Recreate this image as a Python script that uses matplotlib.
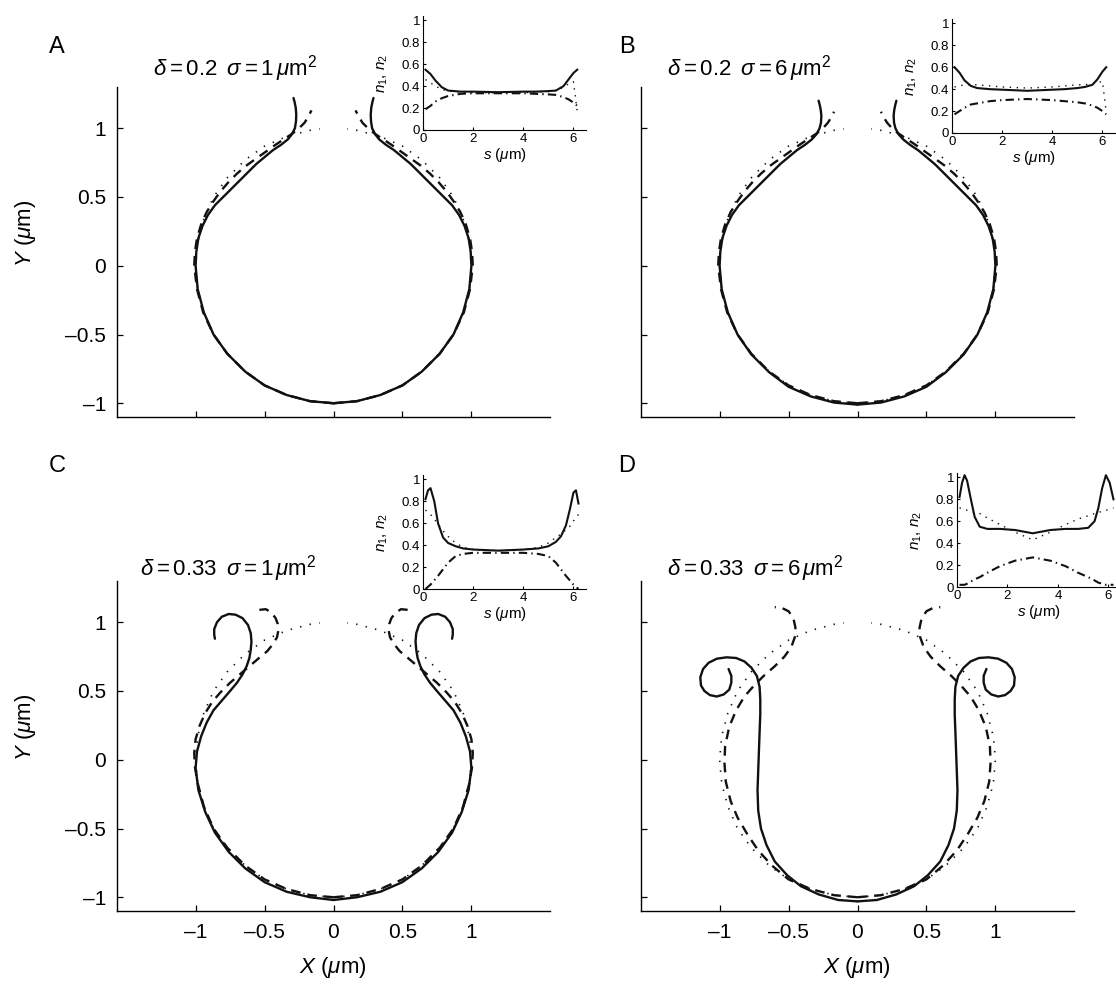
import numpy as np
import matplotlib
matplotlib.use('Agg')
import matplotlib.pyplot as plt

plt.rcParams['font.family'] = ['Liberation Sans', 'DejaVu Sans']
plt.rcParams['mathtext.fontset'] = 'custom'
plt.rcParams['mathtext.rm'] = 'Liberation Sans'
plt.rcParams['mathtext.it'] = 'Liberation Sans:italic'
plt.rcParams['lines.scale_dashes'] = False

# --- shape data: right half of each contour (left half is the mirror image) ---
# dotted reference: sphere with a small opening at the top
circ_x = [0.0, 0.17, 0.34, 0.5, 0.64, 0.77, 0.87, 0.94, 0.985, 1.0, 0.985, 0.94, 0.87, 0.77, 0.64, 0.5, 0.34, 0.17, 0.1]
circ_y = [-1.0, -0.985, -0.94, -0.87, -0.77, -0.64, -0.5, -0.34, -0.17, 0.0, 0.17, 0.34, 0.5, 0.64, 0.77, 0.87, 0.94, 0.985, 0.995]

# A: delta=0.2, sigma=1
A_solid_x = [0.0, 0.17, 0.34, 0.5, 0.64, 0.77, 0.87, 0.94, 0.985, 1.0, 0.995, 0.98, 0.95, 0.91, 0.86, 0.8, 0.74,
             0.68, 0.62, 0.56, 0.5, 0.44, 0.38, 0.33, 0.3, 0.28, 0.272, 0.27, 0.274, 0.282, 0.29]
A_solid_y = [-1.0, -0.985, -0.94, -0.87, -0.77, -0.64, -0.5, -0.34, -0.17, 0.0, 0.1, 0.2, 0.29, 0.37, 0.44, 0.5, 0.56,
             0.62, 0.68, 0.74, 0.79, 0.84, 0.88, 0.92, 0.96, 1.0, 1.05, 1.1, 1.15, 1.19, 1.22]
A_dash_x = [0.0, 0.17, 0.34, 0.5, 0.64, 0.77, 0.87, 0.945, 0.99, 1.01, 1.005, 0.99, 0.96, 0.92, 0.87, 0.82, 0.76,
            0.7, 0.63, 0.56, 0.49, 0.42, 0.36, 0.3, 0.25, 0.21, 0.18, 0.16]
A_dash_y = [-1.0, -0.985, -0.94, -0.87, -0.77, -0.64, -0.5, -0.34, -0.17, 0.0, 0.1, 0.2, 0.3, 0.39, 0.47, 0.54, 0.61,
            0.67, 0.73, 0.78, 0.83, 0.88, 0.92, 0.96, 1.0, 1.04, 1.09, 1.13]

# B: delta=0.2, sigma=6
B_solid_x = [0.0, 0.17, 0.34, 0.5, 0.64, 0.77, 0.87, 0.94, 0.985, 1.0, 0.995, 0.98, 0.95, 0.91, 0.86, 0.8, 0.74,
             0.68, 0.62, 0.56, 0.5, 0.44, 0.38, 0.33, 0.295, 0.275, 0.265, 0.262, 0.266, 0.274, 0.282]
B_solid_y = [-1.01, -0.995, -0.95, -0.88, -0.775, -0.645, -0.5, -0.34, -0.17, 0.0, 0.1, 0.2, 0.29, 0.37, 0.44, 0.5, 0.56,
             0.62, 0.68, 0.74, 0.79, 0.84, 0.88, 0.92, 0.96, 1.0, 1.04, 1.09, 1.13, 1.17, 1.2]
B_dash_x = [0.0, 0.17, 0.34, 0.5, 0.64, 0.77, 0.87, 0.945, 0.99, 1.01, 1.005, 0.99, 0.96, 0.92, 0.87, 0.82, 0.76,
            0.7, 0.63, 0.56, 0.49, 0.42, 0.36, 0.3, 0.25, 0.215, 0.19, 0.17]
B_dash_y = [-1.0, -0.985, -0.94, -0.87, -0.77, -0.64, -0.5, -0.34, -0.17, 0.0, 0.1, 0.2, 0.3, 0.39, 0.47, 0.54, 0.61,
            0.67, 0.73, 0.78, 0.83, 0.88, 0.92, 0.96, 1.0, 1.04, 1.08, 1.12]

# C: delta=0.33, sigma=1
C_solid_x = [0.0, 0.17, 0.34, 0.5, 0.64, 0.76, 0.86, 0.93, 0.98, 1.0, 0.99, 0.96, 0.92, 0.87, 0.81, 0.75, 0.7, 0.66,
             0.63, 0.61, 0.6, 0.595, 0.6, 0.62, 0.66, 0.71, 0.76, 0.81, 0.845, 0.865, 0.865, 0.86]
C_solid_y = [-1.02, -1.0, -0.96, -0.89, -0.79, -0.67, -0.53, -0.38, -0.22, -0.06, 0.06, 0.17, 0.27, 0.36, 0.43, 0.5,
             0.56, 0.62, 0.68, 0.74, 0.8, 0.86, 0.92, 0.98, 1.03, 1.055, 1.06, 1.04, 1.0, 0.95, 0.91, 0.88]
C_dash_x = [0.0, 0.17, 0.34, 0.5, 0.64, 0.77, 0.87, 0.94, 0.985, 1.005, 1.01, 1.0, 0.97, 0.93, 0.88, 0.82, 0.75, 0.68,
            0.61, 0.54, 0.48, 0.44, 0.41, 0.4, 0.405, 0.42, 0.45, 0.49, 0.54]
C_dash_y = [-1.0, -0.985, -0.94, -0.87, -0.77, -0.64, -0.5, -0.34, -0.17, -0.05, 0.05, 0.15, 0.25, 0.34, 0.42, 0.49,
            0.56, 0.62, 0.68, 0.74, 0.79, 0.84, 0.89, 0.94, 0.99, 1.03, 1.07, 1.095, 1.09]

# D: delta=0.33, sigma=6
D_solid_x = [0.0, 0.14, 0.28, 0.41, 0.51, 0.6, 0.66, 0.7, 0.72, 0.725, 0.72, 0.715, 0.71, 0.705, 0.705, 0.71, 0.73,
             0.77, 0.82, 0.88, 0.95, 1.02, 1.08, 1.12, 1.14, 1.135, 1.11, 1.07, 1.02, 0.97, 0.93, 0.915, 0.915, 0.935]
D_solid_y = [-1.03, -1.02, -0.98, -0.92, -0.84, -0.74, -0.62, -0.5, -0.37, -0.22, -0.08, 0.06, 0.2, 0.33, 0.44, 0.53,
             0.61, 0.67, 0.715, 0.74, 0.745, 0.735, 0.705, 0.66, 0.6, 0.54, 0.5, 0.47, 0.46, 0.475, 0.51, 0.56, 0.61, 0.66]
D_dash_x = [0.0, 0.17, 0.34, 0.5, 0.62, 0.72, 0.8, 0.87, 0.92, 0.955, 0.965, 0.96, 0.93, 0.88, 0.82, 0.75, 0.68, 0.6,
            0.53, 0.48, 0.455, 0.45, 0.465, 0.5, 0.55, 0.6]
D_dash_y = [-1.0, -0.985, -0.94, -0.87, -0.77, -0.66, -0.54, -0.42, -0.3, -0.16, -0.02, 0.1, 0.24, 0.36, 0.46, 0.54,
            0.61, 0.68, 0.75, 0.82, 0.89, 0.96, 1.03, 1.08, 1.105, 1.11]

# --- inset data: n1 (solid), n2 (dash-dot) and dotted curve vs arc length s ---
ins_A_s = [0.1, 0.3, 0.5, 0.75, 1.0, 1.5, 2.0, 3.0, 4.0, 4.5, 5.0, 5.3, 5.6, 5.8, 6.0, 6.15]
ins_A_n1 = [0.55, 0.51, 0.45, 0.39, 0.36, 0.35, 0.35, 0.345, 0.35, 0.35, 0.355, 0.36, 0.4, 0.46, 0.52, 0.55]
ins_A_n2 = [0.19, 0.22, 0.26, 0.29, 0.31, 0.33, 0.335, 0.335, 0.335, 0.33, 0.325, 0.32, 0.3, 0.28, 0.25, 0.22]
ins_A_dot = [0.46, 0.43, 0.4, 0.37, 0.355, 0.345, 0.34, 0.34, 0.34, 0.345, 0.35, 0.36, 0.39, 0.42, 0.44, 0.17]

ins_B_s = [0.1, 0.3, 0.5, 0.75, 1.0, 1.5, 2.0, 3.0, 4.0, 4.5, 5.0, 5.3, 5.6, 5.8, 6.0, 6.15]
ins_B_n1 = [0.6, 0.55, 0.48, 0.43, 0.41, 0.4, 0.395, 0.385, 0.395, 0.4, 0.41, 0.42, 0.44, 0.49, 0.56, 0.6]
ins_B_n2 = [0.17, 0.2, 0.23, 0.26, 0.27, 0.29, 0.3, 0.31, 0.3, 0.29, 0.28, 0.27, 0.25, 0.23, 0.2, 0.17]
ins_B_dot = [0.42, 0.43, 0.44, 0.44, 0.44, 0.43, 0.42, 0.41, 0.42, 0.43, 0.44, 0.44, 0.45, 0.46, 0.47, 0.19]

ins_C_s = [0.1, 0.2, 0.3, 0.45, 0.6, 0.8, 1.0, 1.3, 1.6, 2.0, 3.0, 4.0, 4.6, 5.0, 5.3, 5.5, 5.7, 5.85, 6.0, 6.1, 6.2]
ins_C_n1 = [0.82, 0.9, 0.92, 0.8, 0.6, 0.47, 0.42, 0.39, 0.37, 0.36, 0.35, 0.36, 0.37, 0.39, 0.43, 0.48, 0.58, 0.72, 0.88, 0.9, 0.78]
ins_C_n2 = [0.0, 0.02, 0.04, 0.08, 0.12, 0.18, 0.24, 0.3, 0.32, 0.33, 0.33, 0.33, 0.32, 0.3, 0.24, 0.18, 0.12, 0.08, 0.04, 0.02, 0.0]
ins_C_dot = [0.72, 0.7, 0.68, 0.64, 0.59, 0.53, 0.48, 0.42, 0.38, 0.36, 0.35, 0.36, 0.38, 0.42, 0.47, 0.5, 0.54, 0.57, 0.62, 0.65, 0.68]

ins_D_s = [0.1, 0.2, 0.3, 0.4, 0.55, 0.7, 0.9, 1.2, 1.7, 2.3, 3.0, 3.7, 4.3, 4.8, 5.2, 5.45, 5.6, 5.75, 5.9, 6.05, 6.2]
ins_D_n1 = [0.82, 0.95, 1.02, 0.97, 0.8, 0.64, 0.55, 0.53, 0.53, 0.52, 0.49, 0.52, 0.53, 0.53, 0.54, 0.6, 0.72, 0.9, 1.02, 0.95, 0.8]
ins_D_n2 = [0.02, 0.02, 0.02, 0.03, 0.05, 0.07, 0.09, 0.13, 0.19, 0.24, 0.27, 0.24, 0.19, 0.13, 0.09, 0.06, 0.04, 0.03, 0.02, 0.02, 0.02]
ins_D_dot = [0.72, 0.72, 0.71, 0.7, 0.69, 0.68, 0.67, 0.63, 0.57, 0.5, 0.43, 0.5, 0.57, 0.62, 0.65, 0.67, 0.68, 0.69, 0.7, 0.71, 0.72]

panel_letters = ['A', 'B', 'C', 'D']
panel_titles = [r'$\delta = 0.2\;\;\sigma = 1\,\mu$m$^2$',
                r'$\delta = 0.2\;\;\sigma = 6\,\mu$m$^2$',
                r'$\delta = 0.33\;\;\sigma = 1\,\mu$m$^2$',
                r'$\delta = 0.33\;\;\sigma = 6\,\mu$m$^2$']
main_ticks = [-1, -0.5, 0, 0.5, 1]
main_ticklabels = ['\u20131', '\u20130.5', '0', '0.5', '1']
ins_yticks = [0, 0.2, 0.4, 0.6, 0.8, 1]
ins_yticklabels = ['0', '0.2', '0.4', '0.6', '0.8', '1']
ins_xticks = [0, 2, 4, 6]

W, H = 1116, 985
fig = plt.figure(figsize=(W / 100, H / 100), dpi=100)


def add_ax(left, top, right, bottom):
    # axes from pixel box
    return fig.add_axes([left / W, 1 - bottom / H, (right - left) / W, (bottom - top) / H])


def draw_sym(ax, x, y, **kw):
    x = np.asarray(x)
    ax.plot(x, y, **kw)
    ax.plot(-x, y, **kw)


solid_kw = dict(color='#111111', lw=1.7, solid_capstyle='round', solid_joinstyle='round')
dash_kw = dict(color='#111111', lw=1.7, linestyle=(0, (7, 5)))
dot_kw = dict(color='#111111', lw=1.2, linestyle=(0, (1, 6)))

# panel geometry (pixels): main axes box, inset box, title position
main_boxes = [(117, 87, 550, 417), (641, 87, 1074, 417), (117, 581, 550, 911), (641, 581, 1074, 911)]
inset_boxes = [(423, 16, 586, 130), (952, 19, 1115, 133), (423, 475, 586, 589), (957, 473, 1116, 587)]
inset_xmax = [6.5, 6.5, 6.5, 6.3]
title_pos = [(153, 75), (667, 75), (140, 575), (667, 575)]
letter_pos = [(57, 47), (627, 47), (57, 466), (627, 466)]

solids = [(A_solid_x, A_solid_y), (B_solid_x, B_solid_y), (C_solid_x, C_solid_y), (D_solid_x, D_solid_y)]
dashes = [(A_dash_x, A_dash_y), (B_dash_x, B_dash_y), (C_dash_x, C_dash_y), (D_dash_x, D_dash_y)]
insets = [(ins_A_s, ins_A_n1, ins_A_n2, ins_A_dot), (ins_B_s, ins_B_n1, ins_B_n2, ins_B_dot),
          (ins_C_s, ins_C_n1, ins_C_n2, ins_C_dot), (ins_D_s, ins_D_n1, ins_D_n2, ins_D_dot)]

for i in range(4):
    ax = add_ax(*main_boxes[i])
    draw_sym(ax, circ_x, circ_y, **dot_kw)
    draw_sym(ax, dashes[i][0], dashes[i][1], **dash_kw)
    draw_sym(ax, solids[i][0], solids[i][1], **solid_kw)
    ax.set_xlim(-1.57, 1.57)
    ax.set_ylim(-1.1, 1.3)
    for sp in ['top', 'right']:
        ax.spines[sp].set_visible(False)
    for sp in ['left', 'bottom']:
        ax.spines[sp].set_linewidth(1.0)
    ax.set_xticks(main_ticks)
    ax.set_yticks(main_ticks)
    ax.tick_params(direction='in', length=4, width=0.9, labelsize=15, pad=8)
    ax.tick_params(axis='x', pad=9)
    if i >= 2:
        ax.set_xticklabels(main_ticklabels)
    else:
        ax.set_xticklabels([])
    if i % 2 == 0:
        ax.set_yticklabels(main_ticklabels)
    else:
        ax.set_yticklabels([])
    ax.patch.set_alpha(0)

    tx, ty = title_pos[i]
    fig.text(tx / W, 1 - ty / H, panel_titles[i], fontsize=16, ha='left', va='baseline')
    lx, ly = letter_pos[i]
    fig.text(lx / W, 1 - ly / H, panel_letters[i], fontsize=17, ha='center', va='center')

    # inset
    l, t, r, b = inset_boxes[i]
    ia = add_ax(l, t, r, b)
    s, n1, n2, nd = insets[i]
    ia.plot(s, nd, color='#111111', lw=1.0, linestyle=(0, (1, 4)))
    ia.plot(s, n2, color='#111111', lw=1.5, linestyle=(0, (6, 3, 1, 3)))
    ia.plot(s, n1, color='#111111', lw=1.5, solid_joinstyle='round')
    ia.set_xlim(0, inset_xmax[i])
    ia.set_ylim(0, 1.04)
    for sp in ['top', 'right']:
        ia.spines[sp].set_visible(False)
    ia.set_xticks(ins_xticks)
    ia.set_yticks(ins_yticks)
    ia.set_yticklabels(ins_yticklabels)
    ia.tick_params(direction='in', length=2, width=0.8, labelsize=9.5, pad=2)
    ia.patch.set_alpha(0)
    fig.text((l - 40) / W, 1 - (b - 57) / H, r'$n_1$, $n_2$', rotation=90, fontsize=11,
             ha='center', va='center')
    fig.text((l + 82) / W, 1 - (b + 25) / H, r'$s$ ($\mu$m)', fontsize=11, ha='center', va='center')

# axis labels
for cy in [233, 727]:
    fig.text(25 / W, 1 - cy / H, r'$Y$ ($\mu$m)', rotation=90, fontsize=16, ha='center', va='center')
for cx in [333, 857]:
    fig.text(cx / W, 1 - 967 / H, r'$X$ ($\mu$m)', fontsize=16, ha='center', va='center')

fig.savefig('out.png', dpi=100)
